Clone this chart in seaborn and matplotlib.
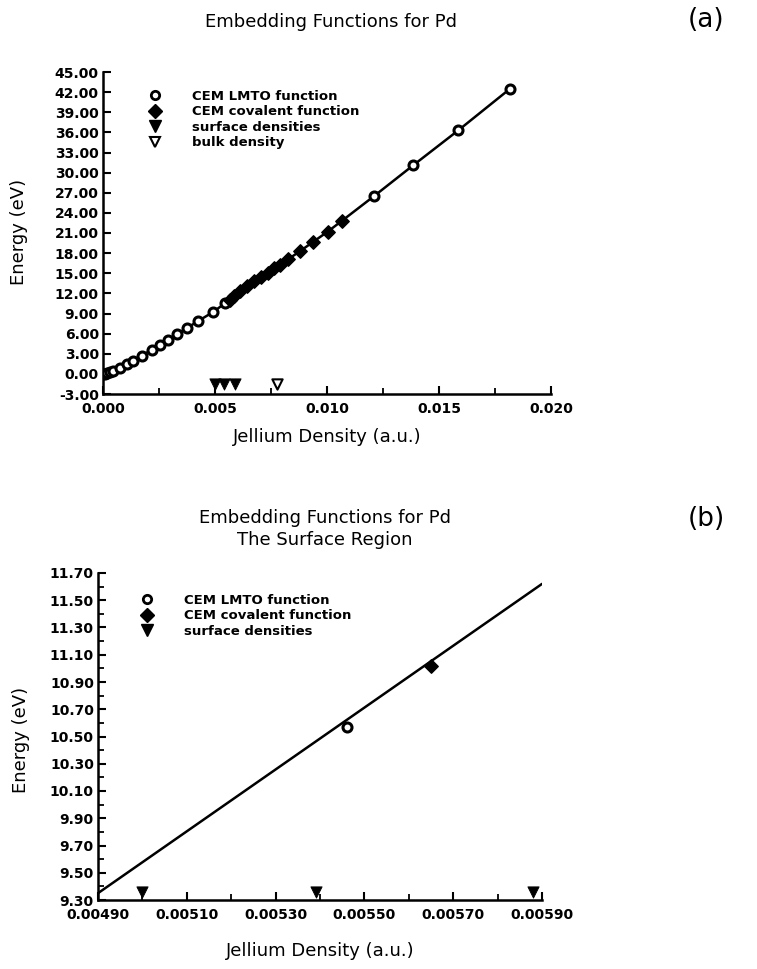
import numpy as np
import pandas as pd
import seaborn as sns
import matplotlib
matplotlib.use("Agg")
import matplotlib.pyplot as plt
from matplotlib.lines import Line2D
from matplotlib.ticker import FixedLocator, FormatStrFormatter

# ---------------- data ----------------
lmto_x = [0.00000, 0.00008, 0.00018, 0.00030, 0.00046, 0.00076, 0.00106, 0.00135,
          0.00173, 0.00217, 0.00255, 0.00292, 0.00329, 0.00373, 0.00426, 0.00493,
          0.00546, 0.01210, 0.01385, 0.01586, 0.01817]
lmto_e = [0.00, 0.05, 0.15, 0.30, 0.45, 0.90, 1.40, 1.90,
          2.70, 3.60, 4.30, 5.10, 5.90, 6.80, 7.90, 9.25,
          10.57, 26.50, 31.10, 36.30, 42.50]

cov_x = [0.00565, 0.00585, 0.00612, 0.00645, 0.00675, 0.00705, 0.00735, 0.00765,
         0.00790, 0.00827, 0.00880, 0.00939, 0.01003, 0.01066]
cov_e = [11.02, 11.60, 12.30, 13.10, 13.80, 14.40, 15.10, 15.80,
         16.30, 17.10, 18.30, 19.70, 21.20, 22.80]

surface_x = [0.00500, 0.00539, 0.00588]
bulk_x = [0.00778]
marker_level_a = -1.5
marker_level_b = 9.36

# surface-region line (panel b)
surf_line_x = [0.00490, 0.00590]
surf_line_e = [9.35, 11.62]

# panel b points
b_lmto_x = [0.00546]
b_lmto_e = [10.57]
b_cov_x = [0.00565]
b_cov_e = [11.02]

title_a = "Embedding Functions for Pd"
title_b = "Embedding Functions for Pd\nThe Surface Region"
xlabel = "Jellium Density (a.u.)"
ylabel = "Energy (eV)"
legend_labels = ["CEM LMTO function", "CEM covalent function", "surface densities", "bulk density"]

# ---------------- style ----------------
sns.set_theme(style="ticks")
plt.rcParams['font.family'] = ['DejaVu Sans']
plt.rcParams['axes.unicode_minus'] = False
plt.rcParams['text.color'] = 'black'
plt.rcParams['axes.labelcolor'] = 'black'
plt.rcParams['xtick.color'] = 'black'
plt.rcParams['ytick.color'] = 'black'

W, H = 757, 969
fig = plt.figure(figsize=(W / 100, H / 100), dpi=100)
fig.patch.set_facecolor("white")

ax1 = fig.add_axes([103 / W, 1 - 394 / H, 448 / W, 322 / H])
ax2 = fig.add_axes([98 / W, 1 - 900 / H, 444 / W, 327 / H])

LW = 1.8
MS = 42

# curve for panel a: union of points, sorted
curve = pd.DataFrame({"x": lmto_x + cov_x, "e": lmto_e + cov_e}).sort_values("x")
sns.lineplot(data=curve, x="x", y="e", ax=ax1, color="black", lw=LW, sort=True,
             estimator=None, zorder=2)
sns.scatterplot(x=lmto_x, y=lmto_e, ax=ax1, marker="o", s=MS, facecolor="white",
                edgecolor="black", linewidth=2.2, zorder=3)
sns.scatterplot(x=cov_x, y=cov_e, ax=ax1, marker="D", s=MS + 5, color="black",
                edgecolor="black", linewidth=1, zorder=4)
sns.scatterplot(x=surface_x, y=[marker_level_a] * len(surface_x), ax=ax1, marker="v",
                s=65, color="black", edgecolor="black", zorder=4)
sns.scatterplot(x=bulk_x, y=[marker_level_a] * len(bulk_x), ax=ax1, marker="v",
                s=55, facecolor="white", edgecolor="black", linewidth=1.5, zorder=4)

# panel b
sns.lineplot(x=surf_line_x, y=surf_line_e, ax=ax2, color="black", lw=LW, zorder=2)
sns.scatterplot(x=b_lmto_x, y=b_lmto_e, ax=ax2, marker="o", s=MS, facecolor="white",
                edgecolor="black", linewidth=2.2, zorder=3)
sns.scatterplot(x=b_cov_x, y=b_cov_e, ax=ax2, marker="D", s=MS + 5, color="black",
                edgecolor="black", linewidth=1, zorder=4)
sns.scatterplot(x=surface_x, y=[marker_level_b] * len(surface_x), ax=ax2, marker="v",
                s=65, color="black", edgecolor="black", zorder=4, clip_on=False)

# ---------------- axes ----------------
ax1.set_xlim(0.0, 0.020)
ax1.set_ylim(-3.0, 45.0)
ax1.xaxis.set_major_locator(FixedLocator(np.round(np.arange(0, 0.0201, 0.005), 4)))
ax1.xaxis.set_minor_locator(FixedLocator(np.round(np.arange(0.0025, 0.0201, 0.005), 5)))
ax1.yaxis.set_major_locator(FixedLocator(np.arange(-3, 45.1, 3)))
ax1.xaxis.set_major_formatter(FormatStrFormatter("%.3f"))
ax1.yaxis.set_major_formatter(FormatStrFormatter("%.2f"))

ax2.set_xlim(0.00490, 0.00590)
ax2.set_ylim(9.30, 11.70)
ax2.xaxis.set_major_locator(FixedLocator(np.round(np.arange(0.0049, 0.00591, 0.0002), 5)))
ax2.xaxis.set_minor_locator(FixedLocator(np.round(np.arange(0.0050, 0.00591, 0.0002), 5)))
ax2.yaxis.set_major_locator(FixedLocator(np.round(np.arange(9.3, 11.71, 0.2), 2)))
ax2.yaxis.set_minor_locator(FixedLocator(np.round(np.arange(9.4, 11.71, 0.2), 2)))
ax2.xaxis.set_major_formatter(FormatStrFormatter("%.5f"))
ax2.yaxis.set_major_formatter(FormatStrFormatter("%.2f"))

for ax in (ax1, ax2):
    ax.set_facecolor("white")
    ax.grid(False)
    for s in ("top", "right"):
        ax.spines[s].set_visible(False)
    for s in ("left", "bottom"):
        ax.spines[s].set_linewidth(1.8)
        ax.spines[s].set_color("black")
    ax.tick_params(which="major", direction="in", length=6, width=1.5, color="black")
    ax.tick_params(which="minor", direction="in", length=4, width=1.3, color="black")
    ax.tick_params(axis="x", which="major", pad=6)
    ax.tick_params(axis="y", which="major", pad=3)
    for lab in ax.get_xticklabels() + ax.get_yticklabels():
        lab.set_fontsize(10)
        lab.set_fontweight("bold")
        lab.set_color("black")
    ax.set_xlabel(xlabel, fontsize=13, color="black")
    ax.set_ylabel(ylabel, fontsize=13, color="black")

ax1.xaxis.set_label_coords(0.5, -(428 - 394) / 322)
ax1.yaxis.set_label_coords((28 - 103) / 448, 0.503)
ax2.xaxis.set_label_coords(0.5, -(942 - 900) / 327)
ax2.yaxis.set_label_coords((30 - 98) / 444, 0.49)

# ---------------- legends ----------------
h_lmto = Line2D([], [], ls="none", marker="o", ms=6, mfc="white", mec="black", mew=2)
h_cov = Line2D([], [], ls="none", marker="D", ms=7, mfc="black", mec="black")
h_surf = Line2D([], [], ls="none", marker="v", ms=8, mfc="black", mec="black")
h_bulk = Line2D([], [], ls="none", marker="v", ms=7, mfc="white", mec="black", mew=1.5)

leg_kw = dict(frameon=False, loc="upper left", handlelength=1.0, handletextpad=2.3,
              borderaxespad=0, borderpad=0, labelspacing=0.2,
              prop=dict(size=9.5, weight="bold"))
ax1.legend([h_lmto, h_cov, h_surf, h_bulk], legend_labels,
           bbox_to_anchor=((148.5 - 103) / 448, 1 - (89.5 - 72) / 322), **leg_kw)
ax2.legend([h_lmto, h_cov, h_surf], legend_labels[:3],
           bbox_to_anchor=((140.5 - 98) / 444, 1 - (593.5 - 573) / 327), **leg_kw)

# ---------------- titles ----------------
fig.text(331 / W, 1 - 22 / H, title_a, ha="center", va="center", fontsize=13, color="black")
fig.text(325 / W, 1 - 529 / H, title_b, ha="center", va="center", fontsize=13,
         linespacing=1.25, color="black")
fig.text(706 / W, 1 - 20 / H, "(a)", ha="center", va="center", fontsize=19, color="black")
fig.text(706 / W, 1 - 519 / H, "(b)", ha="center", va="center", fontsize=19, color="black")

fig.savefig("out.png", dpi=100, facecolor="white")
